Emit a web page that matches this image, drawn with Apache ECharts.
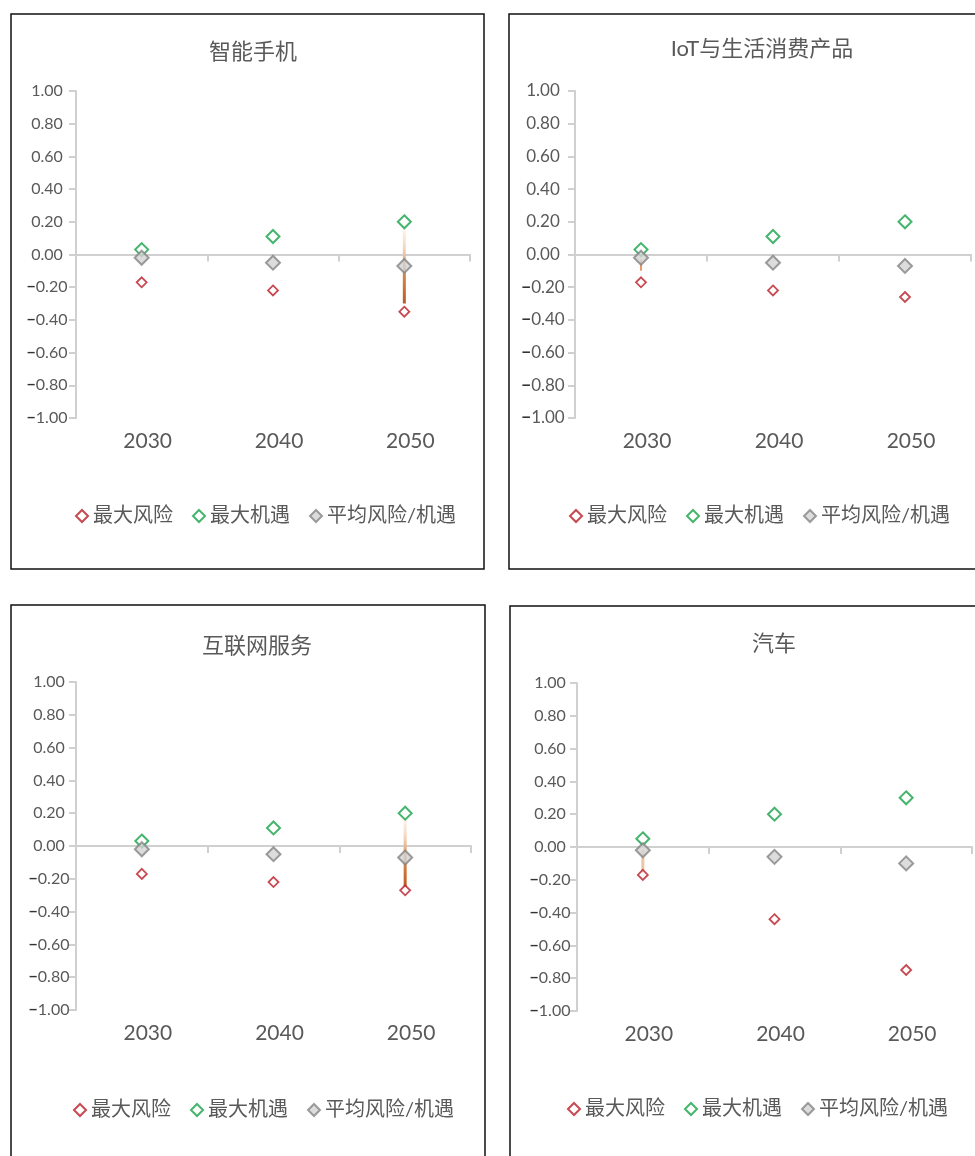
<!DOCTYPE html>
<html>
<head>
<meta charset="utf-8">
<script src="https://cdn.jsdelivr.net/npm/echarts@6/dist/echarts.min.js"></script>
<style>
  html, body { margin: 0; padding: 0; background: #fff; overflow: hidden; }
  #chart { width: 975px; height: 1156px; }
</style>
</head>
<body>
<div id="chart"></div>
<script>
// Categories and legend names
const years = ['2030', '2040', '2050'];
const seriesNames = ['最大风险', '最大机遇', '平均风险/机遇'];
const yMin = -1, yMax = 1, yStep = 0.2;

// 智能手机
const phoneRisk = [-0.17, -0.22, -0.35];
const phoneOpp  = [0.03, 0.11, 0.20];
const phoneAvg  = [-0.02, -0.05, -0.07];
const phoneStem = ['2050', 0.20, -0.30];

// IoT与生活消费产品
const iotRisk = [-0.17, -0.22, -0.26];
const iotOpp  = [0.03, 0.11, 0.20];
const iotAvg  = [-0.02, -0.05, -0.07];
const iotStem = ['2030', -0.03, -0.10];

// 互联网服务
const netRisk = [-0.17, -0.22, -0.27];
const netOpp  = [0.03, 0.11, 0.20];
const netAvg  = [-0.02, -0.05, -0.07];
const netStem = ['2050', 0.20, -0.25];

// 汽车
const carRisk = [-0.17, -0.44, -0.75];
const carOpp  = [0.05, 0.20, 0.30];
const carAvg  = [-0.02, -0.06, -0.10];
const carStem = ['2030', -0.02, -0.16];

const RED = '#b91c26';
const GREEN = '#17a348';
const AXIS = '#d0d0d0';
const TEXT = '#595959';
const FONT = 'Lato, "Noto Sans CJK SC", sans-serif';

const panels = [
  { title: '智能手机', risk: phoneRisk, opp: phoneOpp, avg: phoneAvg, stem: phoneStem, stemKind: 'fade',
    box: [11, 14, 473, 555], grid: [76, 91, 394, 327], titleAt: [248, 50], legendAt: [70, 501], yMargin: 29, yFont: 16 },
  { title: 'IoT与生活消费产品', risk: iotRisk, opp: iotOpp, avg: iotAvg, stem: iotStem, stemKind: 'thin',
    box: [509, 14, 480, 555], grid: [575, 91, 396, 327], titleAt: [757, 47], legendAt: [564, 501], yMargin: 32, yFont: 17 },
  { title: '互联网服务', risk: netRisk, opp: netOpp, avg: netAvg, stem: netStem, stemKind: 'fade',
    box: [11, 605, 474, 560], grid: [76, 682, 395, 328], titleAt: [252, 644], legendAt: [68, 1095], yMargin: 27, yFont: 16 },
  { title: '汽车', risk: carRisk, opp: carOpp, avg: carAvg, stem: carStem, stemKind: 'soft',
    box: [510, 606, 480, 560], grid: [577, 683, 395, 328], titleAt: [769, 642], legendAt: [562, 1094], yMargin: 27, yFont: 16 }
];

function stemStyle(kind) {
  if (kind === 'fade') {
    return {
      width: 3,
      color: new echarts.graphic.LinearGradient(0, 0, 0, 1, [
        { offset: 0, color: 'rgba(250,225,205,0)' },
        { offset: 0.35, color: '#f3d2b6' },
        { offset: 0.6, color: '#dc8a4c' },
        { offset: 1, color: '#b9581c' }
      ])
    };
  }
  if (kind === 'thin') return { width: 1.5, color: '#e07a33' };
  return { width: 3, color: '#efc6a4' };
}

function yLabel(v) {
  const s = Math.abs(v).toFixed(2);
  return v < 0 ? '{m|−}{n|' + s + '}' : '{n|' + s + '}';
}

const option = {
  animation: false,
  textStyle: { fontFamily: FONT },
  title: panels.map(p => ({
    text: p.title,
    left: p.titleAt[0],
    top: p.titleAt[1] - 14,
    textAlign: 'center',
    textStyle: { fontSize: 22, fontWeight: 'normal', color: TEXT, fontFamily: FONT }
  })),
  legend: panels.map(p => ({
    data: seriesNames,
    left: p.legendAt[0],
    top: p.legendAt[1],
    itemWidth: 12,
    itemHeight: 12,
    itemGap: 19,
    selectedMode: false,
    textStyle: { fontSize: 20, color: TEXT, fontFamily: FONT }
  })),
  grid: panels.map(p => ({
    left: p.grid[0], top: p.grid[1], width: p.grid[2], height: p.grid[3], containLabel: false
  })),
  xAxis: panels.flatMap((p, i) => [
    {
      gridIndex: i, type: 'category', data: years, position: 'bottom',
      axisLine: { onZero: true, lineStyle: { color: AXIS, width: 2 } },
      axisTick: { show: true, length: 7, lineStyle: { color: AXIS, width: 2 } },
      axisLabel: { show: false },
      splitLine: { show: false }
    },
    {
      gridIndex: i, type: 'category', data: years, position: 'bottom',
      axisLine: { show: false, onZero: false },
      axisTick: { show: false },
      axisLabel: { fontSize: 21, color: TEXT, margin: 13, padding: [0, 0, 0, 12], fontFamily: FONT },
      splitLine: { show: false }
    }
  ]),
  yAxis: panels.map((p, i) => ({
    gridIndex: i, type: 'value', min: yMin, max: yMax, interval: yStep,
    axisLine: { show: true, lineStyle: { color: AXIS, width: 2 } },
    axisTick: { show: true, length: 7, lineStyle: { color: AXIS, width: 2 } },
    splitLine: { show: false },
    axisLabel: {
      align: 'center', margin: p.yMargin, formatter: yLabel,
      rich: {
        m: { fontSize: p.yFont, color: '#333', fontWeight: 'bold', fontFamily: FONT },
        n: { fontSize: p.yFont, color: TEXT, fontFamily: FONT }
      }
    }
  })),
  series: panels.flatMap((p, i) => {
    const xi = i * 2;
    const pts = arr => arr.map((v, j) => [years[j], v]);
    return [
      {
        type: 'line', xAxisIndex: xi, yAxisIndex: i, silent: true, z: 1,
        symbol: 'none', data: [[p.stem[0], p.stem[1]], [p.stem[0], p.stem[2]]],
        lineStyle: stemStyle(p.stemKind)
      },
      {
        name: seriesNames[0], type: 'scatter', xAxisIndex: xi, yAxisIndex: i, z: 3,
        symbol: 'diamond', symbolSize: 10, data: pts(p.risk),
        itemStyle: { color: '#fff', borderColor: RED, borderWidth: 1.8 },
        emphasis: { disabled: true }
      },
      {
        name: seriesNames[1], type: 'scatter', xAxisIndex: xi, yAxisIndex: i, z: 3,
        symbol: 'diamond', symbolSize: 13, data: pts(p.opp),
        itemStyle: { color: '#fff', borderColor: GREEN, borderWidth: 2 },
        emphasis: { disabled: true }
      },
      {
        name: seriesNames[2], type: 'scatter', xAxisIndex: xi, yAxisIndex: i, z: 4,
        symbol: 'diamond', symbolSize: 14, data: pts(p.avg),
        itemStyle: { color: '#d3d3d3', borderColor: '#858585', borderWidth: 2 },
        emphasis: { disabled: true }
      }
    ];
  }),
  graphic: panels.map(p => ({
    type: 'rect', silent: true,
    shape: { x: p.box[0], y: p.box[1], width: p.box[2], height: p.box[3] },
    style: { fill: 'none', stroke: '#111', lineWidth: 1.5 }
  }))
};

const chart = echarts.init(document.getElementById('chart'), null, { renderer: 'canvas' });
chart.setOption(option);
</script>
</body>
</html>
